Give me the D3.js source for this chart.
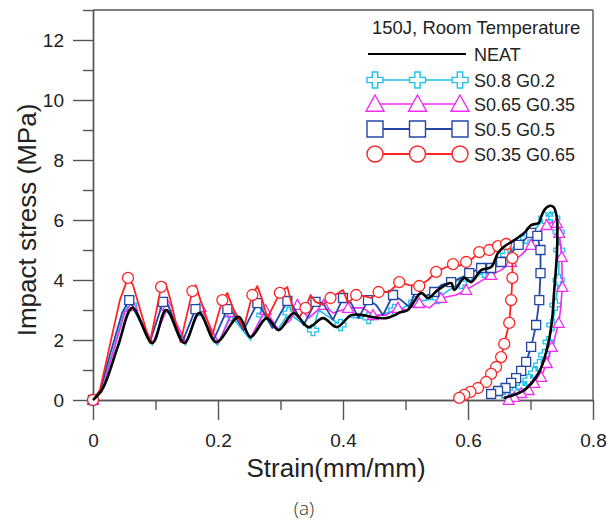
<!DOCTYPE html>
<html>
<head>
<meta charset="utf-8">
<script src="https://cdn.jsdelivr.net/npm/d3@7"></script>
<style>
  body { margin: 0; background: #fff; }
  svg { display: block; font-family: "Liberation Sans", Arial, sans-serif; }
</style>
</head>
<body>
<div id="chart"></div>
<script>
// axis ticks
var xTicks = [0, 0.2, 0.4, 0.6, 0.8];
var xMinor = [0.1, 0.3, 0.5, 0.7];
var yTicks = [0, 2, 4, 6, 8, 10, 12];
var yMinor = [1, 3, 5, 7, 9, 11, 13];

var legendTitle = "150J, Room Temperature";
var seriesNames = ["NEAT", "S0.8 G0.2", "S0.65 G0.35", "S0.5 G0.5", "S0.35 G0.65"];

// [strain, stress]
var neat = [[0,0],[0.016,0.4],[0.04,1.8],[0.063,3.07],[0.095,1.9],[0.117,3.0],[0.146,1.9],[0.17,2.9],[0.197,1.93],
  [0.233,2.77],[0.252,2.1],[0.278,2.73],[0.297,2.33],[0.321,2.9],[0.345,2.43],[0.368,2.73],[0.39,2.43],[0.413,2.83],
  [0.432,2.83],[0.445,2.77],[0.469,2.73],[0.493,2.93],[0.504,3.0],[0.525,3.57],[0.536,3.4],[0.552,3.67],[0.573,3.9],
  [0.578,3.67],[0.594,4.07],[0.605,3.93],[0.621,4.33],[0.637,4.43],[0.648,4.9],[0.657,5.1],[0.674,5.33],[0.69,5.57],
  [0.701,5.83],[0.713,5.9],[0.717,6.1],[0.722,6.33],[0.73,6.47],[0.737,6.43],[0.742,6.1],[0.743,5.67],[0.742,4.77],
  [0.738,3.67],[0.734,2.57],[0.726,1.67],[0.713,0.9],[0.69,0.33],[0.657,0.07]];

var s08 = [[0,0],[0.014,0.33],[0.051,3.0],[0.061,3.17],[0.095,1.83],[0.116,3.1],[0.148,1.83],[0.169,3.0],[0.199,1.83],
  [0.22,2.83],[0.252,2.0],[0.271,2.83],[0.295,2.33],[0.313,2.9],[0.332,2.6],[0.352,2.33],[0.361,3.0],[0.38,2.73],
  [0.396,2.5],[0.408,2.77],[0.429,2.73],[0.441,2.73],[0.461,2.83],[0.482,3.0],[0.496,3.07],[0.514,3.27],[0.533,3.33],
  [0.552,3.4],[0.57,3.67],[0.589,3.9],[0.605,4.0],[0.626,4.27],[0.645,4.6],[0.661,4.83],[0.677,5.17],[0.693,5.4],
  [0.709,5.73],[0.722,6.07],[0.732,6.27],[0.738,6.07],[0.745,5.6],[0.746,5.0],[0.745,4.0],[0.74,3.17],[0.735,2.5],
  [0.729,1.93],[0.722,1.5],[0.714,1.17],[0.706,0.9],[0.697,0.67],[0.685,0.43],[0.674,0.27],[0.663,0.13],[0.653,0.07]];
var s08Marks = [[0,0],[0.061,3.17],[0.116,3.1],[0.169,3.0],[0.22,2.83],[0.271,2.83],[0.313,2.9],[0.352,2.33],
  [0.396,2.5],[0.441,2.73],[0.482,3.0],[0.514,3.27],[0.552,3.4],[0.589,3.9],[0.626,4.27],[0.661,4.83],[0.693,5.4],
  [0.722,6.07],[0.738,6.07],[0.745,5.6],[0.746,5.0],[0.745,4.0],[0.74,3.17],[0.735,2.5],[0.729,1.93],[0.722,1.5],
  [0.714,1.17],[0.706,0.9],[0.697,0.67],[0.685,0.43],[0.674,0.27],[0.663,0.13]];

var s065 = [[0,0],[0.014,0.27],[0.051,2.93],[0.063,3.13],[0.096,1.9],[0.12,3.13],[0.149,1.9],[0.172,3.1],[0.201,1.9],
  [0.223,2.93],[0.252,2.07],[0.276,3.0],[0.297,2.33],[0.316,2.67],[0.327,3.17],[0.345,2.73],[0.369,3.17],[0.384,2.9],
  [0.408,3.07],[0.432,3.07],[0.448,2.83],[0.469,2.83],[0.488,3.07],[0.501,3.0],[0.522,3.23],[0.538,3.07],[0.557,3.4],
  [0.581,3.5],[0.597,3.67],[0.618,3.93],[0.637,4.17],[0.653,4.33],[0.669,4.6],[0.685,4.83],[0.701,5.17],[0.714,5.6],
  [0.726,5.83],[0.734,5.93],[0.742,5.9],[0.746,5.57],[0.75,4.77],[0.751,3.77],[0.748,3.0],[0.745,2.57],[0.738,2.0],
  [0.734,1.77],[0.726,1.23],[0.717,0.77],[0.706,0.57],[0.697,0.33],[0.685,0.23],[0.674,0.1],[0.665,0]];
var s065Marks = [[0,0],[0.063,3.13],[0.12,3.13],[0.172,3.1],[0.223,2.93],[0.276,3.0],[0.327,3.17],[0.369,3.17],
  [0.408,3.07],[0.448,2.83],[0.488,3.07],[0.522,3.23],[0.557,3.4],[0.597,3.67],[0.637,4.17],[0.669,4.6],[0.701,5.17],
  [0.726,5.83],[0.742,5.9],[0.746,5.57],[0.75,4.77],[0.751,3.77],[0.745,2.57],[0.734,1.77],[0.726,1.23],[0.717,0.77],
  [0.706,0.57],[0.697,0.33],[0.685,0.23],[0.674,0.1],[0.665,0]];

var s05 = [[0,0],[0.011,0.27],[0.027,1.5],[0.047,2.93],[0.058,3.33],[0.067,3.0],[0.091,1.93],[0.112,3.27],[0.12,3.17],
  [0.143,1.93],[0.164,3.03],[0.172,2.93],[0.193,2.0],[0.215,3.03],[0.223,2.93],[0.241,2.33],[0.263,3.23],[0.271,3.0],
  [0.287,2.4],[0.311,3.3],[0.319,3.17],[0.337,2.5],[0.356,3.27],[0.368,3.23],[0.384,2.67],[0.4,3.4],[0.413,3.23],
  [0.425,2.73],[0.44,3.33],[0.453,3.17],[0.464,2.83],[0.48,3.5],[0.493,3.33],[0.506,3.1],[0.517,3.67],[0.533,3.47],
  [0.546,3.6],[0.557,3.83],[0.573,3.93],[0.589,4.07],[0.602,4.23],[0.621,4.4],[0.637,4.4],[0.653,4.6],[0.666,4.83],
  [0.681,5.17],[0.69,5.33],[0.701,5.57],[0.711,5.47],[0.716,5.0],[0.716,4.23],[0.714,3.33],[0.709,2.5],[0.701,1.77],
  [0.693,1.27],[0.685,0.97],[0.677,0.73],[0.669,0.57],[0.66,0.4],[0.648,0.3],[0.637,0.2]];
var s05Marks = [[0,0],[0.058,3.33],[0.112,3.27],[0.164,3.03],[0.215,3.03],[0.263,3.23],[0.311,3.3],[0.356,3.27],
  [0.4,3.4],[0.44,3.33],[0.48,3.5],[0.517,3.67],[0.546,3.6],[0.573,3.93],[0.602,4.23],[0.621,4.4],[0.637,4.4],
  [0.653,4.6],[0.681,5.17],[0.701,5.57],[0.711,5.47],[0.716,5.0],[0.716,4.23],[0.714,3.33],[0.709,2.5],[0.701,1.77],
  [0.693,1.27],[0.685,0.97],[0.677,0.73],[0.669,0.57],[0.66,0.4],[0.648,0.3],[0.637,0.2]];

var s035 = [[0,0],[0.011,0.33],[0.027,1.83],[0.043,3.33],[0.056,4.07],[0.064,3.83],[0.091,1.9],[0.109,3.77],[0.116,3.9],
  [0.124,3.33],[0.14,1.93],[0.159,3.63],[0.164,3.83],[0.172,3.33],[0.191,2.17],[0.207,3.33],[0.215,3.57],[0.225,3.0],
  [0.241,2.4],[0.255,3.5],[0.263,3.8],[0.271,3.33],[0.279,2.73],[0.299,3.57],[0.311,3.77],[0.321,2.93],[0.329,2.73],
  [0.34,3.07],[0.348,3.5],[0.356,3.27],[0.368,3.17],[0.38,3.4],[0.4,3.67],[0.408,3.23],[0.421,3.5],[0.432,3.47],
  [0.445,3.4],[0.457,3.6],[0.474,3.6],[0.49,3.93],[0.506,3.83],[0.522,3.8],[0.536,4.0],[0.549,4.27],[0.562,4.4],
  [0.576,4.53],[0.586,4.47],[0.597,4.6],[0.608,4.73],[0.618,4.93],[0.634,5.0],[0.648,5.13],[0.661,5.2],[0.668,5.07],
  [0.671,4.73],[0.671,4.07],[0.669,3.33],[0.666,2.57],[0.658,1.87],[0.653,1.43],[0.645,1.1],[0.637,0.87],[0.629,0.6],
  [0.616,0.4],[0.604,0.27],[0.594,0.17],[0.586,0.07]];
var s035Marks = [[0,0],[0.056,4.07],[0.109,3.77],[0.159,3.63],[0.207,3.33],[0.255,3.5],[0.299,3.57],[0.34,3.07],
  [0.38,3.4],[0.421,3.5],[0.457,3.6],[0.49,3.93],[0.522,3.8],[0.549,4.27],[0.576,4.53],[0.597,4.6],[0.618,4.93],
  [0.634,5.0],[0.648,5.13],[0.661,5.2],[0.671,4.73],[0.671,4.07],[0.669,3.33],[0.666,2.57],[0.658,1.87],[0.653,1.43],
  [0.645,1.1],[0.637,0.87],[0.629,0.6],[0.616,0.4],[0.604,0.27],[0.594,0.17],[0.586,0.07]];

var margin = {top: 10, right: 15, bottom: 124, left: 93},
    width = 608 - margin.left - margin.right,
    height = 524 - margin.top - margin.bottom;

var svg = d3.select("#chart").append("svg")
    .attr("width", 608)
    .attr("height", 524);
var g = svg.append("g")
    .attr("transform", "translate(" + margin.left + "," + margin.top + ")");

var x = d3.scaleLinear().domain([0, 0.8]).range([0, width]);
var y = d3.scaleLinear().domain([0, 13]).range([height, 0]);

var axisColor = "#555";

// minor ticks first
g.append("g")
    .attr("transform", "translate(0," + height + ")")
    .call(d3.axisBottom(x).tickValues(xMinor).tickSize(10).tickSizeOuter(0).tickFormat(""));
g.append("g")
    .call(d3.axisLeft(y).tickValues(yMinor).tickSize(10).tickSizeOuter(0).tickFormat(""));

// major ticks with labels
g.append("g")
    .attr("transform", "translate(0," + height + ")")
    .call(d3.axisBottom(x).tickValues(xTicks).tickSize(20).tickSizeOuter(0).tickPadding(14)
      .tickFormat(function(d) { return d === 0 ? "0" : d3.format(".1f")(d); }));
g.append("g")
    .call(d3.axisLeft(y).tickValues(yTicks).tickSize(20).tickSizeOuter(0).tickPadding(9)
      .tickFormat(d3.format("d")));

g.selectAll(".domain, .tick line").attr("stroke", axisColor).attr("stroke-width", 1.4);
g.selectAll(".tick text").attr("fill", "#222").style("font-size", "19px")
    .style("font-family", "'Liberation Sans', Arial, sans-serif");

// top and right frame
g.append("line").attr("x1", 0).attr("x2", width).attr("y1", 0).attr("y2", 0)
    .attr("stroke", axisColor).attr("stroke-width", 1.4);
g.append("line").attr("x1", width).attr("x2", width).attr("y1", 0).attr("y2", height)
    .attr("stroke", axisColor).attr("stroke-width", 1.4);

// marker shapes
function markerPath(type, s) {
  var h = s / 2, a = s / 6;
  if (type === "circle") return d3.symbol(d3.symbolCircle, Math.PI * h * h)();
  if (type === "square") return "M" + (-h) + "," + (-h) + "H" + h + "V" + h + "H" + (-h) + "Z";
  if (type === "triangle") return "M0," + (-h) + "L" + h + "," + (h * 0.8) + "L" + (-h) + "," + (h * 0.8) + "Z";
  if (type === "cross") return "M" + (-a) + "," + (-h) + "H" + a + "V" + (-a) + "H" + h + "V" + a + "H" + a +
      "V" + h + "H" + (-a) + "V" + a + "H" + (-h) + "V" + (-a) + "H" + (-a) + "Z";
  return "";
}

var series = [
  {name: seriesNames[1], line: s08, marks: s08Marks, color: "#1cc4ea", shape: "cross", size: 11, width: 1.6},
  {name: seriesNames[2], line: s065, marks: s065Marks, color: "#f02cf0", shape: "triangle", size: 11, width: 1.6},
  {name: seriesNames[3], line: s05, marks: s05Marks, color: "#2347a6", shape: "square", size: 9, width: 1.8},
  {name: seriesNames[4], line: s035, marks: s035Marks, color: "#ff2424", shape: "circle", size: 11, width: 1.8}
];

var line = d3.line()
    .x(function(d) { return x(d[0]); })
    .y(function(d) { return y(d[1]); });

series.forEach(function(s) {
  g.append("path")
      .datum(s.line)
      .style("fill", "none")
      .style("stroke", s.color)
      .style("stroke-width", s.width)
      .style("stroke-linejoin", "round")
      .attr("d", line);
  g.selectAll(null)
      .data(s.marks)
      .enter().append("path")
      .attr("transform", function(d) { return "translate(" + x(d[0]) + "," + y(d[1]) + ")"; })
      .attr("d", markerPath(s.shape, s.size))
      .style("fill", "#fff")
      .style("stroke", s.color)
      .style("stroke-width", 1.3);
});

// NEAT on top, smooth
g.append("path")
    .datum(neat)
    .style("fill", "none")
    .style("stroke", "#000")
    .style("stroke-width", 2.6)
    .style("stroke-linejoin", "round")
    .attr("d", d3.line().curve(d3.curveCatmullRom.alpha(0.5))
      .x(function(d) { return x(d[0]); })
      .y(function(d) { return y(d[1]); }));

// legend
var lg = svg.append("g");
lg.append("text").attr("x", 372).attr("y", 34).text(legendTitle)
    .style("font-size", "18.5px").attr("fill", "#222");
var rowY = [54, 80, 104, 129, 154];
lg.append("line").attr("x1", 368).attr("x2", 466).attr("y1", rowY[0]).attr("y2", rowY[0])
    .attr("stroke", "#000").attr("stroke-width", 2.2);
lg.append("text").attr("x", 474).attr("y", rowY[0] + 6.5).text(seriesNames[0])
    .style("font-size", "18px").attr("fill", "#222");
series.forEach(function(s, i) {
  var yy = rowY[i + 1];
  lg.append("line").attr("x1", 375).attr("x2", 460).attr("y1", yy).attr("y2", yy)
      .attr("stroke", s.color).attr("stroke-width", s.width);
  [375, 417.5, 460].forEach(function(mx) {
    lg.append("path")
        .attr("transform", "translate(" + mx + "," + yy + ")")
        .attr("d", markerPath(s.shape, s.shape === "triangle" ? 18 : 16))
        .style("fill", "#fff")
        .style("stroke", s.color)
        .style("stroke-width", 1.4);
  });
  lg.append("text").attr("x", 474).attr("y", yy + 6.5).text(s.name)
      .style("font-size", "18px").attr("fill", "#222");
});

// axis titles
svg.append("text")
    .attr("transform", "translate(36," + (margin.top + height / 2 + 15) + ") rotate(-90)")
    .attr("text-anchor", "middle")
    .style("font-size", "26px").attr("fill", "#222")
    .text("Impact stress (MPa)");
svg.append("text")
    .attr("x", 336).attr("y", 477)
    .attr("text-anchor", "middle")
    .style("font-size", "26px").attr("fill", "#222")
    .text("Strain(mm/mm)");
svg.append("text")
    .attr("x", 304).attr("y", 515)
    .attr("text-anchor", "middle")
    .style("font-size", "19px").style("font-family", "'Open Sans', 'Noto Sans', sans-serif")
    .style("font-weight", 300).attr("fill", "#333")
    .text("(a)");
</script>
</body>
</html>
